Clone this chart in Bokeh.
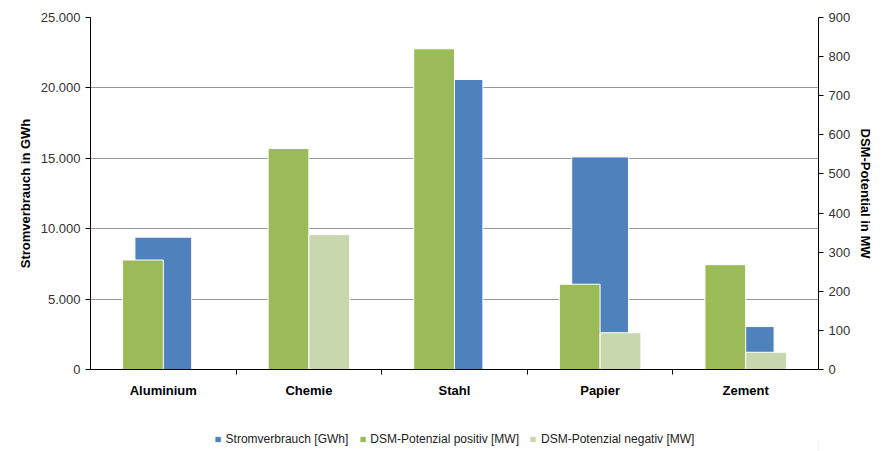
from bokeh.plotting import figure
from bokeh.layouts import column
from bokeh.models import (Range1d, LinearAxis, FixedTicker, Legend, LegendItem, ColumnDataSource)
from bokeh.transform import dodge
from bokeh.embed import file_html
from bokeh.resources import INLINE

categories = ["Aluminium", "Chemie", "Stahl", "Papier", "Zement"]
stromverbrauch_gwh = [9400, 0, 20600, 15100, 3050]
dsm_positiv_mw = [280, 565, 820, 218, 268]
dsm_negativ_mw = [0, 345, 0, 94, 44]
left_ticks = [0, 5000, 10000, 15000, 20000, 25000]
left_tick_labels = ["0", "5.000", "10.000", "15.000", "20.000", "25.000"]
right_ticks = [0, 100, 200, 300, 400, 500, 600, 700, 800, 900]
series_labels = ["Stromverbrauch [GWh]", "DSM-Potenzial positiv [MW]", "DSM-Potenzial negativ [MW]"]
series_colors = ["#4F81BD", "#9BBB59", "#C9D7AE"]

FONT = "Liberation Sans"

n = len(categories)
centers = [i + 0.5 for i in range(n)]
boundaries = [i for i in range(1, n)]

source = ColumnDataSource(dict(x=centers, cat=categories, strom=stromverbrauch_gwh,
                               pos=dsm_positiv_mw, neg=dsm_negativ_mw))

p = figure(width=885, height=427, x_range=Range1d(0, n),
           y_range=Range1d(0, 25000), output_backend="svg", toolbar_location=None,
           x_axis_location=None, y_axis_location=None,
           min_border_left=90, min_border_right=67, min_border_top=17, min_border_bottom=58)
p.outline_line_color = None
p.extra_y_ranges = {"mw": Range1d(0, 900)}

p.xgrid.grid_line_color = None
p.ygrid.ticker = FixedTicker(ticks=left_ticks)
p.ygrid.grid_line_color = "#999999"
p.ygrid.grid_line_width = 1


def style_axis(ax):
    ax.axis_line_color = "black"
    ax.major_tick_line_color = "black"
    ax.minor_tick_line_color = None
    ax.major_tick_out = 5
    ax.major_tick_in = 0
    ax.major_label_text_font = FONT
    ax.major_label_text_font_size = "13px"
    ax.major_label_text_color = "#333333"
    ax.axis_label_text_font = FONT
    ax.axis_label_text_font_size = "13px"
    ax.axis_label_text_font_style = "bold"
    ax.axis_label_text_color = "black"


left = LinearAxis(ticker=FixedTicker(ticks=left_ticks),
                  major_label_overrides=dict(zip(left_ticks, left_tick_labels)),
                  axis_label="Stromverbrauch in GWh")
style_axis(left)
p.add_layout(left, "left")

right = LinearAxis(y_range_name="mw", ticker=FixedTicker(ticks=right_ticks),
                   axis_label="DSM-Potential in MW")
style_axis(right)
p.add_layout(right, "right")

# tick marks at category boundaries
tick_axis = LinearAxis(ticker=FixedTicker(ticks=boundaries),
                       major_label_overrides={b: "" for b in boundaries})
style_axis(tick_axis)
tick_axis.major_label_text_font_size = "1px"
tick_axis.major_label_standoff = 0
p.add_layout(tick_axis, "below")

cat_axis = LinearAxis(ticker=FixedTicker(ticks=centers),
                      major_label_overrides=dict(zip(centers, categories)))
cat_axis.axis_line_color = None
cat_axis.major_tick_line_color = None
cat_axis.minor_tick_line_color = None
cat_axis.major_label_text_font = FONT
cat_axis.major_label_text_font_size = "13px"
cat_axis.major_label_text_font_style = "bold"
cat_axis.major_label_text_color = "black"
cat_axis.major_label_standoff = 2
p.add_layout(cat_axis, "below")

p.vbar(x="x", top="strom", width=0.39, source=source,
       fill_color=series_colors[0], line_color="white", line_width=1)
p.vbar(x=dodge("x", -0.14), top="pos", width=0.28, source=source,
       y_range_name="mw", fill_color=series_colors[1], line_color="white", line_width=1)
p.vbar(x=dodge("x", 0.14), top="neg", width=0.28, source=source,
       y_range_name="mw", fill_color=series_colors[2], line_color="white", line_width=1)

# legend strip below the chart (swatch renderers sit outside the visible range)
p2 = figure(width=885, height=24, x_range=Range1d(0, 1), y_range=Range1d(0, 1),
            output_backend="svg", toolbar_location=None,
            x_axis_location=None, y_axis_location=None, min_border=0)
p2.outline_line_color = None
p2.xgrid.visible = False
p2.ygrid.visible = False
legend_renderers = [p2.vbar(x=[5], top=[0.5], width=0.1, fill_color=c, line_color="white", line_width=1)
                    for c in series_colors]

legend = Legend(items=[LegendItem(label=lab, renderers=[r])
                       for lab, r in zip(series_labels, legend_renderers)],
                orientation="horizontal", location="center",
                label_text_font=FONT, label_text_font_size="12px", label_text_color="#222222",
                glyph_width=8, glyph_height=8, spacing=10, label_standoff=4,
                border_line_color=None, background_fill_alpha=0, margin=0, padding=4)
p2.add_layout(legend, "center")

open("out.html", "w").write(file_html(column(p, p2), INLINE))
